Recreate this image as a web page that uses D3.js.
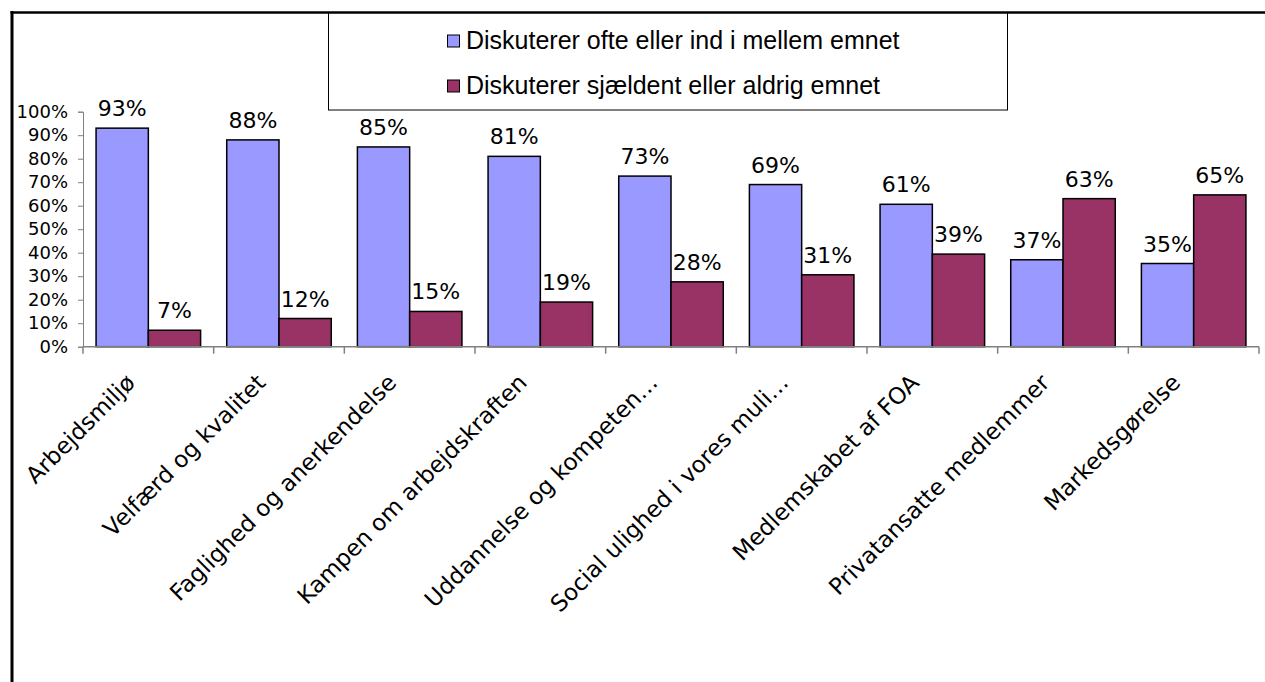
<!DOCTYPE html>
<html>
<head>
<meta charset="utf-8">
<script src="https://cdn.jsdelivr.net/npm/d3@7"></script>
<style>
  html, body { margin: 0; padding: 0; background: #fff; }
  svg { display: block; }
</style>
</head>
<body>
<script>
const categories = [
  "Arbejdsmiljø",
  "Velfærd og kvalitet",
  "Faglighed og anerkendelse",
  "Kampen om arbejdskraften",
  "Uddannelse og kompeten…",
  "Social ulighed i vores muli…",
  "Medlemskabet af FOA",
  "Privatansatte medlemmer",
  "Markedsgørelse"
];
const seriesNames = [
  "Diskuterer ofte eller ind i mellem emnet",
  "Diskuterer sjældent eller aldrig emnet"
];
const often = [93, 88, 85, 81, 72.6, 69, 60.6, 37, 35.4];
const rarely = [7, 12, 15, 19, 27.6, 30.6, 39.4, 63, 64.6];
const oftenLabels = ["93%", "88%", "85%", "81%", "73%", "69%", "61%", "37%", "35%"];
const rarelyLabels = ["7%", "12%", "15%", "19%", "28%", "31%", "39%", "63%", "65%"];
const yTicks = [0, 10, 20, 30, 40, 50, 60, 70, 80, 90, 100];
const colors = ["#9999FF", "#993366"];

const W = 1265, H = 682;
const svg = d3.select("body").append("svg").attr("width", W).attr("height", H);

// outer frame (left and top borders)
svg.append("line").attr("x1", 12).attr("x2", 12).attr("y1", 11).attr("y2", H)
  .attr("stroke", "#000").attr("stroke-width", 3);

const x0 = d3.scaleBand().domain(categories).range([83, 1259]).paddingInner(0.2).paddingOuter(0.1);
const x1 = d3.scaleBand().domain([0, 1]).range([0, x0.bandwidth()]);
const y = d3.scaleLinear().domain([0, 100]).range([346.7, 111.7]);
const step = x0.step();

// y axis
const yAxis = d3.axisLeft(y).tickValues(yTicks).tickFormat(d => d + "%").tickSize(5).tickPadding(10);
const gy = svg.append("g").attr("transform", "translate(83,0)").call(yAxis);
gy.select(".domain").attr("stroke", "#808080");
gy.selectAll(".tick line").attr("stroke", "#808080");
gy.selectAll(".tick text").attr("font-family", "DejaVu Sans, Verdana, sans-serif")
  .attr("font-size", 18).attr("fill", "#000");

// bars
const groups = svg.append("g").selectAll("g").data(categories).join("g")
  .attr("transform", d => `translate(${x0(d)},0)`);
[often, rarely].forEach((vals, s) => {
  groups.append("rect")
    .attr("x", x1(s))
    .attr("width", x1.bandwidth())
    .attr("y", (d, i) => y(vals[i]))
    .attr("height", (d, i) => y(0) - y(vals[i]))
    .attr("fill", colors[s])
    .attr("stroke", "#000")
    .attr("stroke-width", 1.5);
});
[oftenLabels, rarelyLabels].forEach((labs, s) => {
  const vals = s === 0 ? often : rarely;
  groups.append("text")
    .attr("x", x1(s) + x1.bandwidth() / 2)
    .attr("y", (d, i) => y(vals[i]) - 12)
    .attr("text-anchor", "middle")
    .attr("font-family", "DejaVu Sans, Verdana, sans-serif")
    .attr("font-size", 22)
    .attr("fill", "#000")
    .text((d, i) => labs[i]);
});

// x axis line and ticks at band boundaries
svg.append("line").attr("x1", 83).attr("x2", 1259).attr("y1", y(0)).attr("y2", y(0))
  .attr("stroke", "#808080").attr("stroke-width", 1.5);
const bounds = d3.range(categories.length + 1);
const bx = i => (i < categories.length ? x0(categories[i]) - step * 0.1 : x0(categories[i - 1]) + x0.bandwidth() + step * 0.1);
svg.append("g").selectAll("line").data(bounds).join("line")
  .attr("x1", bx).attr("x2", bx)
  .attr("y1", y(0)).attr("y2", y(0) + 7)
  .attr("stroke", "#808080").attr("stroke-width", 1.5);

// category labels
svg.append("g").selectAll("text").data(categories).join("text")
  .attr("transform", d => `translate(${x0(d) + x0.bandwidth() / 2 - 12},384) rotate(-45)`)
  .attr("text-anchor", "end")
  .attr("font-family", "DejaVu Sans, Verdana, sans-serif")
  .attr("font-size", 23)
  .attr("fill", "#000")
  .text(d => d);

// legend
const lg = svg.append("g");
lg.append("rect").attr("x", 328.5).attr("y", 12.5).attr("width", 679).attr("height", 97.5)
  .attr("fill", "#fff").attr("stroke", "#000").attr("stroke-width", 1);
const legendY = [41, 86];
seriesNames.forEach((n, s) => {
  lg.append("rect").attr("x", 447.5).attr("y", legendY[s] - 6).attr("width", 12).attr("height", 12)
    .attr("fill", colors[s]).attr("stroke", "#000").attr("stroke-width", 1);
  lg.append("text").attr("x", 466).attr("y", legendY[s] + 8)
    .attr("font-family", "Liberation Sans, Arial, sans-serif")
    .attr("font-size", 25)
    .attr("fill", "#000")
    .text(n);
});
// top border drawn over legend
svg.append("line").attr("x1", 10.5).attr("x2", W).attr("y1", 12.5).attr("y2", 12.5)
  .attr("stroke", "#000").attr("stroke-width", 2.5);
</script>
</body>
</html>
